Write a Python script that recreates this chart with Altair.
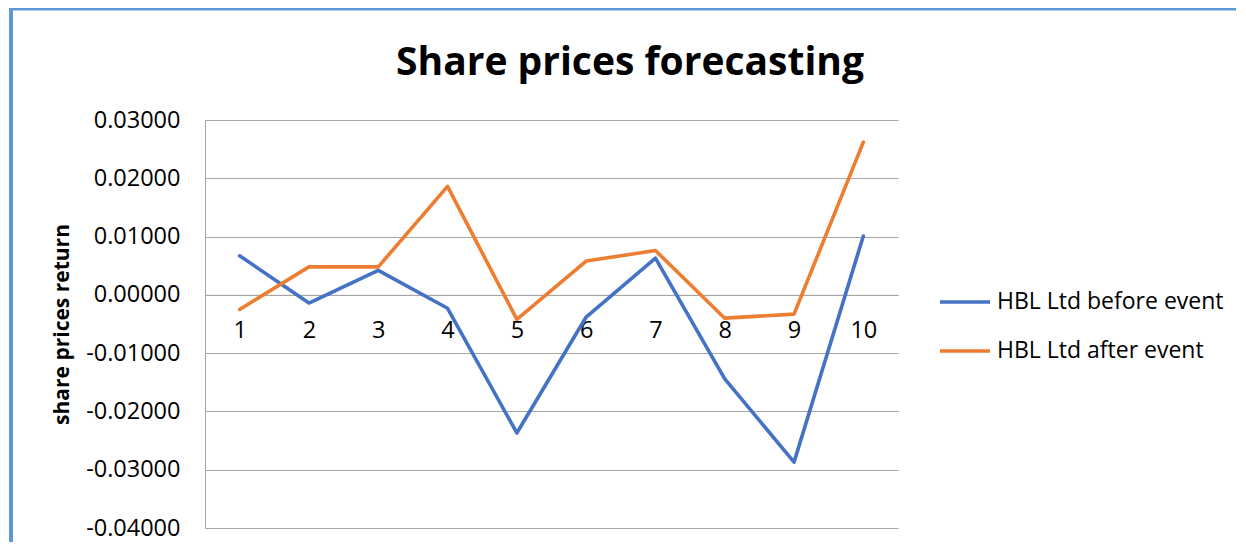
import altair as alt
import pandas as pd

periods = [1, 2, 3, 4, 5, 6, 7, 8, 9, 10]
before_event = [0.0067, -0.0014, 0.0042, -0.0023, -0.0237, -0.0038, 0.0063, -0.0144, -0.0287, 0.0101]
after_event = [-0.0025, 0.0048, 0.0048, 0.0186, -0.0042, 0.0058, 0.0076, -0.0040, -0.0033, 0.0262]
series_names = ["HBL Ltd before event", "HBL Ltd after event"]
series_colors = ["#4472C4", "#ED7D31"]
y_ticks = [-0.04, -0.03, -0.02, -0.01, 0.0, 0.01, 0.02, 0.03]
chart_title = "Share prices forecasting"

rows = []
for p, v in zip(periods, before_event):
    rows.append({"period": p, "value": v, "series": series_names[0]})
for p, v in zip(periods, after_event):
    rows.append({"period": p, "value": v, "series": series_names[1]})
df = pd.DataFrame(rows)

FONT = "Open Sans"
W, H = 693, 408
grid_color = "#A6A6A6"

lines = alt.Chart(df).mark_line(strokeWidth=3.6, strokeCap="round", strokeJoin="round").encode(
    x=alt.X(
        "period:O",
        scale=alt.Scale(type="point", padding=0.5),
        axis=alt.Axis(
            title=None,
            labelAngle=0,
            labelFont=FONT,
            labelFontSize=23.5,
            labelColor="#000000",
            labelPadding=24,
            labelBaseline="top",
            ticks=False,
            tickSize=0,
            domainColor=grid_color,
            domainWidth=1,
            grid=False,
            offset=-H * 4 / 7,
        ),
    ),
    y=alt.Y(
        "value:Q",
        scale=alt.Scale(domain=[-0.04, 0.03], nice=False, zero=False),
        axis=alt.Axis(
            title="share prices return",
            titleFont=FONT,
            titleFontSize=21,
            titleFontWeight="bold",
            titleColor="#000000",
            titleX=62.5 - 205,
            titleY=H / 2,
            titleAngle=270,
            titleAlign="center",
            titleBaseline="middle",
            values=y_ticks,
            labelExpr="replace(format(datum.value, '.5f'), '\u2212', '-')",
            labelFont=FONT,
            labelFontSize=23.5,
            labelColor="#000000",
            labelPadding=25,
            ticks=False,
            tickSize=0,
            domainColor=grid_color,
            domainWidth=1,
            grid=True,
            gridColor=grid_color,
            gridWidth=1,
        ),
    ),
    color=alt.Color(
        "series:N",
        scale=alt.Scale(domain=series_names, range=series_colors),
        sort=series_names,
        legend=alt.Legend(
            title=None,
            orient="none",
            legendX=938 - 205,
            legendY=155,
            symbolType="stroke",
            symbolSize=2500,
            symbolStrokeWidth=3.6,
            labelFont=FONT,
            labelFontSize=23,
            labelColor="#000000",
            labelOffset=5,
            labelLimit=400,
            rowPadding=10,
        ),
    ),
)

single = pd.DataFrame({"label": [chart_title]})
left_border = alt.Chart(single).mark_rule(color="#5B9BD5", strokeWidth=4).encode(
    x=alt.value(11 - 205), y=alt.value(6 - 120), y2=alt.value(560 - 120)
)
top_border = alt.Chart(single).mark_rule(color="#5B9BD5", strokeWidth=4).encode(
    x=alt.value(9 - 205), x2=alt.value(1250 - 205), y=alt.value(8.5 - 120)
)
title_text = alt.Chart(single).mark_text(
    font=FONT, fontSize=39, fontWeight="bold", color="#000000",
    align="center", baseline="alphabetic",
).encode(
    text="label:N", x=alt.value(630 - 205), y=alt.value(75 - 120)
)

chart = alt.layer(left_border, top_border, title_text, lines).properties(
    width=W,
    height=H,
    autosize=alt.AutoSizeParams(type="none"),
    padding={"left": 197, "top": 112, "right": 338, "bottom": 14},
).configure(background="#FFFFFF").configure_view(strokeWidth=0, stroke="transparent")

chart.save("out.html", embed_options={"renderer": "svg", "actions": False})
